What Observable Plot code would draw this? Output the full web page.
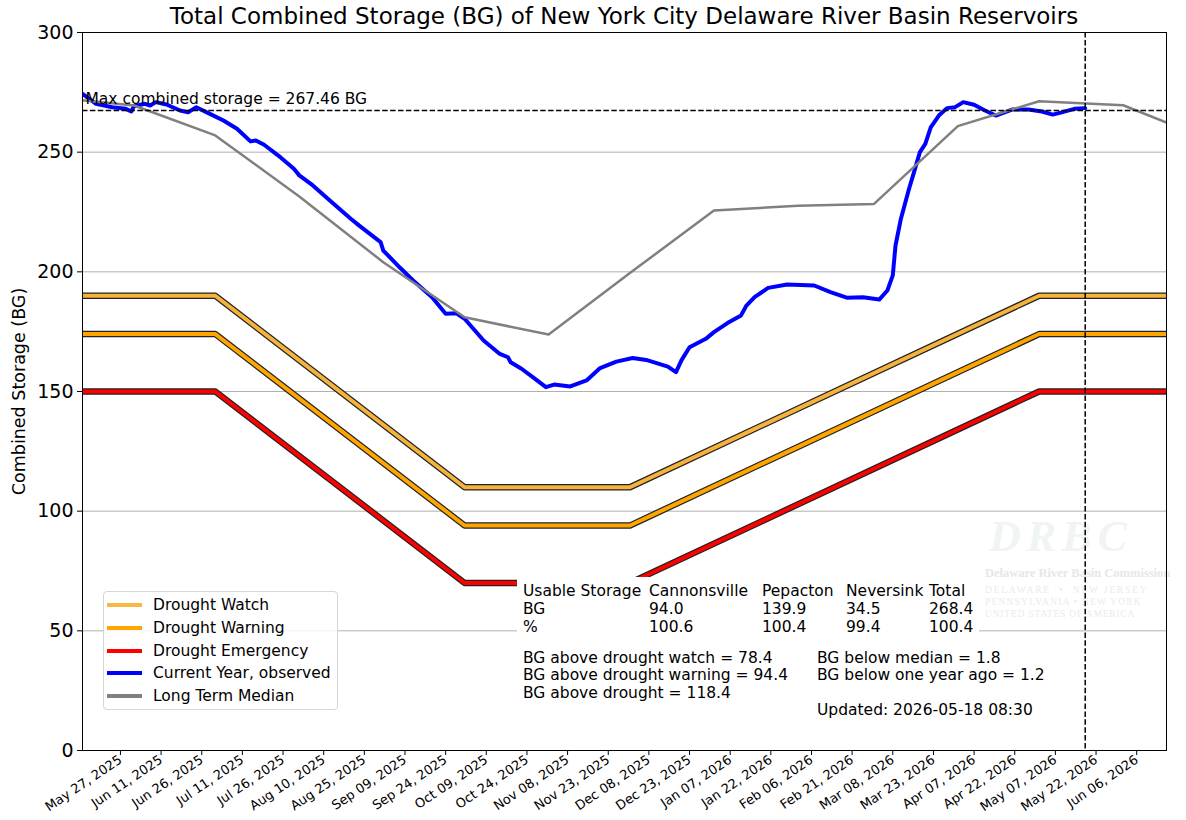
<!DOCTYPE html>
<html>
<head>
<meta charset="utf-8">
<script src="https://cdn.jsdelivr.net/npm/d3@7"></script>
<script src="https://cdn.jsdelivr.net/npm/@observablehq/plot@0.6"></script>
<style>
  html, body { margin: 0; padding: 0; background: white; }
  body { font-family: "DejaVu Sans", sans-serif; }
  #wrap { position: relative; width: 1186px; height: 820px; overflow: hidden; }
  #title { position: relative; z-index: 2; height: 28px; padding-top: 2px; line-height: 28px; font-size: 23px; text-align: center; width: 1186px; }
  #title span { position: absolute; left: 624px; transform: translateX(-50%); white-space: nowrap; }
  #chart { position: relative; z-index: 1; }
  #logo { position: absolute; z-index: 0; left: 985px; top: 510px; width: 201px; height: 120px; overflow: hidden; font-family: "Liberation Serif", serif; }
  .abs { position: absolute; white-space: nowrap; }
  #legend { position: absolute; z-index: 3; left: 103px; top: 591px; width: 233px; height: 117px; border: 1px solid #d6d6d6; border-radius: 4px; background: rgba(255,255,255,0.85); font-size: 15.5px; }
  #tablebox { position: absolute; z-index: 3; left: 517px; top: 577px; width: 462px; height: 60px; background: white; }
  .t { position: absolute; z-index: 4; white-space: nowrap; font-size: 15.5px; line-height: 16px; color: black; }
</style>
</head>
<body>
<div id="wrap">
  <div id="logo"></div>
  <div id="title"><span>Total Combined Storage (BG) of New York City Delaware River Basin Reservoirs</span></div>
  <div id="chart"></div>
  <div id="legend"></div>
  <div id="tablebox"></div>
</div>
<script>
// ---------------- data ----------------
const obsDates = [
  "2025-05-13","2025-05-18","2025-05-24","2025-05-29","2025-05-31","2025-06-01","2025-06-05","2025-06-07",
  "2025-06-09","2025-06-13","2025-06-18","2025-06-21","2025-06-24","2025-06-29","2025-07-04","2025-07-09",
  "2025-07-14","2025-07-16","2025-07-19","2025-07-25","2025-07-30","2025-08-01","2025-08-06","2025-08-13",
  "2025-08-20","2025-08-23","2025-08-31","2025-09-01","2025-09-07","2025-09-12","2025-09-19","2025-09-24",
  "2025-09-28","2025-10-01","2025-10-08","2025-10-14","2025-10-17","2025-10-18","2025-10-22","2025-10-27",
  "2025-10-31","2025-11-03","2025-11-09","2025-11-15","2025-11-20","2025-11-26","2025-12-02","2025-12-07",
  "2025-12-15","2025-12-18","2025-12-20","2025-12-23","2025-12-29","2026-01-01","2026-01-06","2026-01-11",
  "2026-01-13","2026-01-16","2026-01-21","2026-01-28","2026-02-07","2026-02-13","2026-02-19","2026-02-25",
  "2026-03-03","2026-03-06","2026-03-08","2026-03-09","2026-03-11","2026-03-14","2026-03-16","2026-03-18",
  "2026-03-20","2026-03-22","2026-03-25","2026-03-28","2026-03-31","2026-04-03","2026-04-07","2026-04-11",
  "2026-04-15","2026-04-21","2026-04-27","2026-05-02","2026-05-06","2026-05-09","2026-05-14","2026-05-18"
];
const obsValues = [
  274.4, 270.2, 268.8, 268.1, 267.0, 269.2, 270.2, 269.5,
  270.9, 269.9, 267.4, 266.7, 268.8, 266.0, 263.2, 259.8,
  254.5, 254.9, 253.1, 247.9, 243.1, 240.3, 236.1, 229.1,
  222.2, 219.4, 212.4, 208.9, 201.9, 196.4, 189.4, 182.5,
  182.7, 180.4, 171.3, 165.7, 164.3, 162.2, 159.5, 155.3,
  151.8, 152.9, 152.1, 154.6, 159.8, 162.5, 164.0, 163.2,
  160.4, 158.1, 163.0, 168.5, 172.0, 174.8, 178.6, 181.8,
  185.9, 189.4, 193.3, 194.7, 194.3, 191.5, 189.2, 189.4,
  188.4, 192.2, 198.5, 211.0, 222.2, 234.7, 242.3, 250.0,
  253.5, 260.4, 265.3, 268.4, 268.8, 270.9, 269.8, 267.4,
  265.3, 267.8, 267.8, 267.0, 265.7, 266.5, 268.1, 268.4
];

const medianDates = ["2025-05-01","2025-06-01","2025-07-01","2025-08-01","2025-09-01","2025-10-01","2025-11-01",
  "2025-12-01","2026-01-01","2026-02-01","2026-03-01","2026-04-01","2026-05-01","2026-06-01","2026-07-01"];
const medianValues = [273.0, 269.5, 257.0, 231.5, 204.0, 181.0, 173.8, 199.5, 225.6, 227.6, 228.3, 260.9, 271.3, 269.6, 256.0];

const droughtDates = ["2025-05-01","2025-07-01","2025-10-01","2025-12-01","2026-05-01","2026-07-01"];
const watchValues = [190, 190, 110, 110, 190, 190];
const warningValues = [174, 174, 94, 94, 174, 174];
const emergencyValues = [150, 150, 70, 70, 150, 150];

const tickDates = ["2025-05-27","2025-06-11","2025-06-26","2025-07-11","2025-07-26","2025-08-10","2025-08-25",
  "2025-09-09","2025-09-24","2025-10-09","2025-10-24","2025-11-08","2025-11-23","2025-12-08","2025-12-23",
  "2026-01-07","2026-01-22","2026-02-06","2026-02-21","2026-03-08","2026-03-23","2026-04-07","2026-04-22",
  "2026-05-07","2026-05-22","2026-06-06"];
const yTicks = [0, 50, 100, 150, 200, 250, 300];
const gridValues = [50, 100, 150, 200, 250];

const maxStorage = 267.46;
const updatedDate = "2026-05-18";
const xDomain = ["2025-05-13", "2026-06-17"];

const reservoirNames = ["Cannonsville", "Pepacton", "Neversink", "Total"];
const reservoirBG = ["94.0", "139.9", "34.5", "268.4"];
const reservoirPct = ["100.6", "100.4", "99.4", "100.4"];
const leftNotes = ["BG above drought watch = 78.4", "BG above drought warning = 94.4", "BG above drought = 118.4"];
const rightNotes = ["BG below median = 1.8", "BG below one year ago = 1.2"];
const updatedText = "Updated: 2026-05-18 08:30";

const legendItems = [
  {label: "Drought Watch", color: "#f7b943"},
  {label: "Drought Warning", color: "#ffa500"},
  {label: "Drought Emergency", color: "#ff0000"},
  {label: "Current Year, observed", color: "#0000ff"},
  {label: "Long Term Median", color: "#808080"}
];
const colors = {watch: "#f5b33c", warning: "#ffa500", emergency: "#ff0000", obs: "#0000ff", median: "#808080"};

// ---------------- build tables ----------------
const D = s => new Date(s);
const obs = obsDates.map((d, i) => ({date: D(d), value: obsValues[i]}));
const median = medianDates.map((d, i) => ({date: D(d), value: medianValues[i]}));
const watch = droughtDates.map((d, i) => ({date: D(d), value: watchValues[i]}));
const warning = droughtDates.map((d, i) => ({date: D(d), value: warningValues[i]}));
const emergency = droughtDates.map((d, i) => ({date: D(d), value: emergencyValues[i]}));

function droughtLine(data, color) {
  return [
    Plot.line(data, {x: "date", y: "value", stroke: "#222", strokeWidth: 6.4, clip: true}),
    Plot.line(data, {x: "date", y: "value", stroke: color, strokeWidth: 4, clip: true})
  ];
}

const chart = Plot.plot({
  width: 1186,
  height: 790,
  marginLeft: 82,
  marginRight: 20,
  marginTop: 2,
  marginBottom: 70,
  style: {fontFamily: "DejaVu Sans", background: "transparent", overflow: "visible", color: "black"},
  x: {type: "utc", domain: xDomain.map(D)},
  y: {domain: [0, 300]},
  marks: [
    Plot.gridY(gridValues, {stroke: "#b0b0b0", strokeOpacity: 1, strokeWidth: 1}),
    ...droughtLine(watch, colors.watch),
    ...droughtLine(warning, colors.warning),
    ...droughtLine(emergency, colors.emergency),
    Plot.line(obs, {x: "date", y: "value", stroke: colors.obs, strokeWidth: 4, clip: true}),
    Plot.line(median, {x: "date", y: "value", stroke: colors.median, strokeWidth: 2.5, clip: true}),
    Plot.ruleY([maxStorage], {stroke: "black", strokeWidth: 1.5, strokeDasharray: "5.5,2.4"}),
    Plot.ruleX([D(updatedDate)], {stroke: "black", strokeWidth: 1.5, strokeDasharray: "5.5,2.4"}),
    Plot.text([`Max combined storage = ${maxStorage} BG`], {x: D(xDomain[0]), y: maxStorage, dx: 3, dy: -11, textAnchor: "start", fontSize: 15.5, fill: "black"}),
    Plot.frame({stroke: "black", strokeWidth: 1}),
    Plot.axisY({ticks: yTicks, tickSize: 5, tickPadding: 4, fontSize: 19, label: null}),
    Plot.text(["Combined Storage (BG)"], {frameAnchor: "left", textAnchor: "middle", dx: -63, rotate: -90, fontSize: 17.5, fill: "black"}),
    Plot.axisX({ticks: tickDates.map(D), tickFormat: d3.utcFormat("%b %d, %Y"), tickRotate: -34, tickSize: 5, tickPadding: 3, fontSize: 13, label: null})
  ]
});
document.getElementById("chart").appendChild(chart);

// ---------------- legend ----------------
const leg = document.getElementById("legend");
legendItems.forEach((it, i) => {
  const cy = 13 + i * 22.8;
  const sw = document.createElement("div");
  sw.className = "abs";
  sw.style.cssText = `left:3px;top:${cy - 2}px;width:35px;height:4px;background:${it.color};`;
  leg.appendChild(sw);
  const tx = document.createElement("div");
  tx.className = "abs";
  tx.style.cssText = `left:49px;top:${cy - 9}px;font-size:15.5px;line-height:18px;`;
  tx.textContent = it.label;
  leg.appendChild(tx);
});

// ---------------- storage table ----------------
const wrap = document.getElementById("wrap");
function addText(txt, x, y) {
  const el = document.createElement("div");
  el.className = "t";
  el.style.left = x + "px";
  el.style.top = y + "px";
  el.textContent = txt;
  wrap.appendChild(el);
}
const colX = [649, 762, 846, 929];
const rowY = [583, 601, 619];
addText("Usable Storage", 523, rowY[0]);
addText("BG", 523, rowY[1]);
addText("%", 523, rowY[2]);
reservoirNames.forEach((n, i) => {
  addText(n, colX[i], rowY[0]);
  addText(reservoirBG[i], colX[i], rowY[1]);
  addText(reservoirPct[i], colX[i], rowY[2]);
});
leftNotes.forEach((s, i) => addText(s, 523, 650 + i * 17.3));
rightNotes.forEach((s, i) => addText(s, 817, 650 + i * 17.3));
addText(updatedText, 817, 702);

// ---------------- faint logo watermark ----------------
const logo = document.getElementById("logo");
logo.innerHTML = `
  <div class="abs" style="left:4px;top:4px;font-size:44px;font-style:italic;font-weight:bold;color:#f1f5f2;letter-spacing:6px;line-height:46px;">DRBC</div>
  <div class="abs" style="left:0;top:56px;font-size:12.5px;font-weight:bold;color:#e3e9e7;line-height:14px;">Delaware River Basin Commission</div>
  <div class="abs" style="left:0;top:75px;font-size:9.5px;color:#e8edeb;letter-spacing:1.8px;line-height:11px;">DELAWARE &nbsp;•&nbsp; NEW JERSEY</div>
  <div class="abs" style="left:0;top:87px;font-size:9.5px;color:#e8edeb;letter-spacing:1.2px;line-height:11px;">PENNSYLVANIA • NEW YORK</div>
  <div class="abs" style="left:0;top:99px;font-size:9.5px;color:#e8edeb;letter-spacing:0.8px;line-height:11px;">UNITED STATES OF AMERICA</div>
`;
</script>
</body>
</html>
